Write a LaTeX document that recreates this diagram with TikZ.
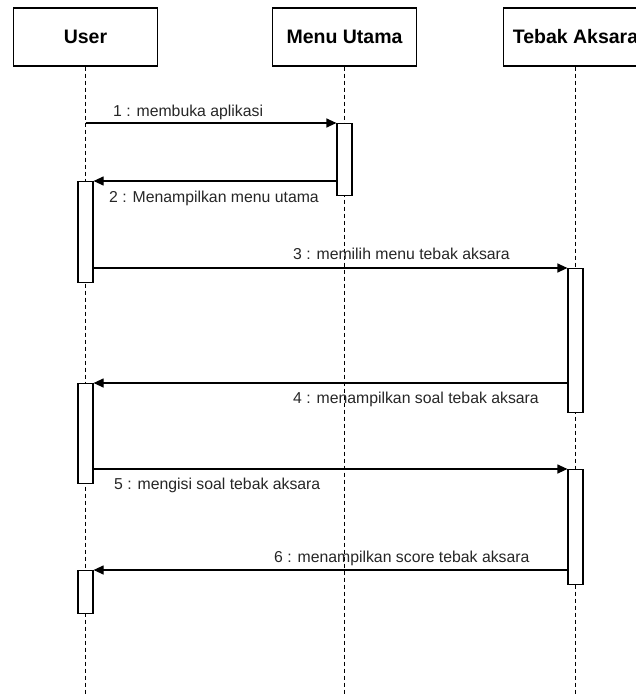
\documentclass[tikz,border=0pt]{standalone}
\usepackage{fontspec}
\setmainfont{Liberation Sans}
\usetikzlibrary{positioning, arrows.meta}

\begin{document}
\begin{tikzpicture}[x=1pt, y=-1pt,
    actor/.style={draw, line width=1.2pt, minimum width=144pt, minimum height=58pt, inner sep=0pt, font=\fontsize{19.5}{22}\selectfont\bfseries},
    lifeline/.style={dash pattern=on 4pt off 3pt, line width=1pt},
    act/.style={draw, fill=white, line width=1.2pt, minimum width=15pt, inner sep=0pt},
    msg/.style={-{Triangle[length=10pt, width=9pt]}, line width=1.2pt},
    lbl/.style={anchor=base west, inner sep=0pt, font=\fontsize{15.8}{18}\selectfont, text=black!85}]

    \useasboundingbox (0,0) rectangle (636,695);

    % Draw actor boxes
    \node[actor] (user) at (85.5,37) {User};
    \node[actor] (menu) at (344.5,37) {Menu Utama};
    \node[actor] (tebak) at (575.5,37) {Tebak Aksara};

    % Draw lifelines
    \coordinate (bottom) at (0,695);
    \foreach \n in {user, menu, tebak}
      \draw[lifeline] (\n.south) -- (\n.south |- bottom);

    % Activation boxes
    \foreach \a/\x/\t/\b in {m1/344.5/123/195, u1/85.5/181/282, t1/575.5/268/412, u2/85.5/383/483, t2/575.5/469/584, u3/85.5/570/613} {
      \node[act, anchor=north, minimum height={\b-\t}] (\a) at (\x,\t) {};
    }

    % Draw messages
    \draw[msg] (user |- m1.north) -- (m1.north west);
    \draw[msg] (m1.west |- u1.north) -- (u1.north east);
    \draw[msg] (u1.east |- t1.north) -- (t1.north west);
    \draw[msg] (t1.west |- u2.north) -- (u2.north east);
    \draw[msg] (u2.east |- t2.north) -- (t2.north west);
    \draw[msg] (t2.west |- u3.north) -- (u3.north east);

    % Message labels
    \node[lbl] (l1) at (113,116.4) {1 : membuka aplikasi};
    \node[lbl] (l2) at (109,202.7) {2 : Menampilkan menu utama};
    \node[lbl] (l3) at (293,259.7) {3 : memilih menu tebak aksara};
    \node[lbl] (l4) at (293,403.7) {4 : menampilkan soal tebak aksara};
    \node[lbl] (l5) at (114,489.7) {5 : mengisi soal tebak aksara};
    \node[lbl] (l6) at (274,562.4) {6 : menampilkan score tebak aksara};

\end{tikzpicture}
\end{document}
